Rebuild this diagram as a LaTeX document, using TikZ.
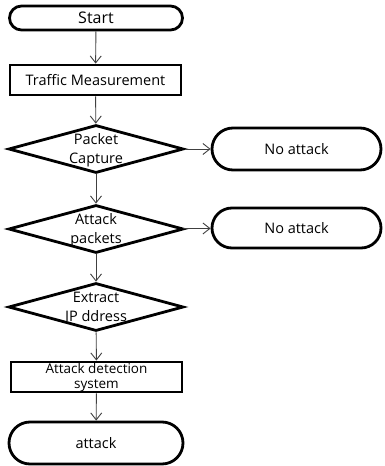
\documentclass[tikz,border=0pt]{standalone}
\usepackage{fontspec}
\setmainfont{Open Sans}
\usetikzlibrary{arrows.meta,shapes.geometric,shapes.misc}
\begin{document}
\begin{tikzpicture}[x=1pt,y=-1pt,
  term/.style={draw=black,line width=2.8pt,rounded rectangle,minimum width=#1,inner sep=0pt,font=\fontsize{14.5}{16}\selectfont},
  proc/.style={draw=black,line width=2.8pt,rectangle,minimum width=171pt,minimum height=30pt,inner sep=0pt,font=\fontsize{14.5}{16}\selectfont},
  dec/.style={draw=black,line width=2.8pt,diamond,minimum width=175pt,minimum height=48pt,inner sep=0pt},
  txt/.style={align=center,inner sep=0pt,font=\fontsize{14.5}{18.5}\selectfont},
  flow/.style={draw=black!75,line width=0.9pt,-{Straight Barb[length=7pt,width=11pt,line width=0.9pt]}}
]
\useasboundingbox (0,0) rectangle (384,466);
\node[term=173pt,minimum height=24pt,font=\fontsize{16}{18}\selectfont] (start) at (96,18) {Start};
\node[proc] (tm) at (95.5,80) {Traffic Measurement};
\node[dec] (d1) at (96,149) {};
\node[txt] (t1) at (96,150) {Packet\\Capture};
\node[term=169pt,minimum height=42pt] (na1) at (296.5,149) {No attack};
\node[dec] (d2) at (96,229) {};
\node[txt] (t2) at (96,230) {Attack\\packets};
\node[term=169pt,minimum height=40pt] (na2) at (296.5,228) {No attack};
\node[dec] (d3) at (96,307) {};
\node[txt] (t3) at (96,307) {Extract\\IP ddress};
\node[proc,align=center,font=\fontsize{13.5}{15}\selectfont] (ads) at (96.5,377) {Attack detection\\system};
\node[term=174pt,minimum height=42pt] (att) at (96,443) {attack};
\draw[flow] (start) -- (tm);
\draw[flow] (tm) -- (d1);
\draw[flow] (d1) -- (na1);
\draw[flow] (d1) -- (d2);
\draw[flow] (d2) -- (na2);
\draw[flow] (d2) -- (d3);
\draw[flow] (d3) -- (ads);
\draw[flow] (ads) -- (att);
\end{tikzpicture}
\end{document}
